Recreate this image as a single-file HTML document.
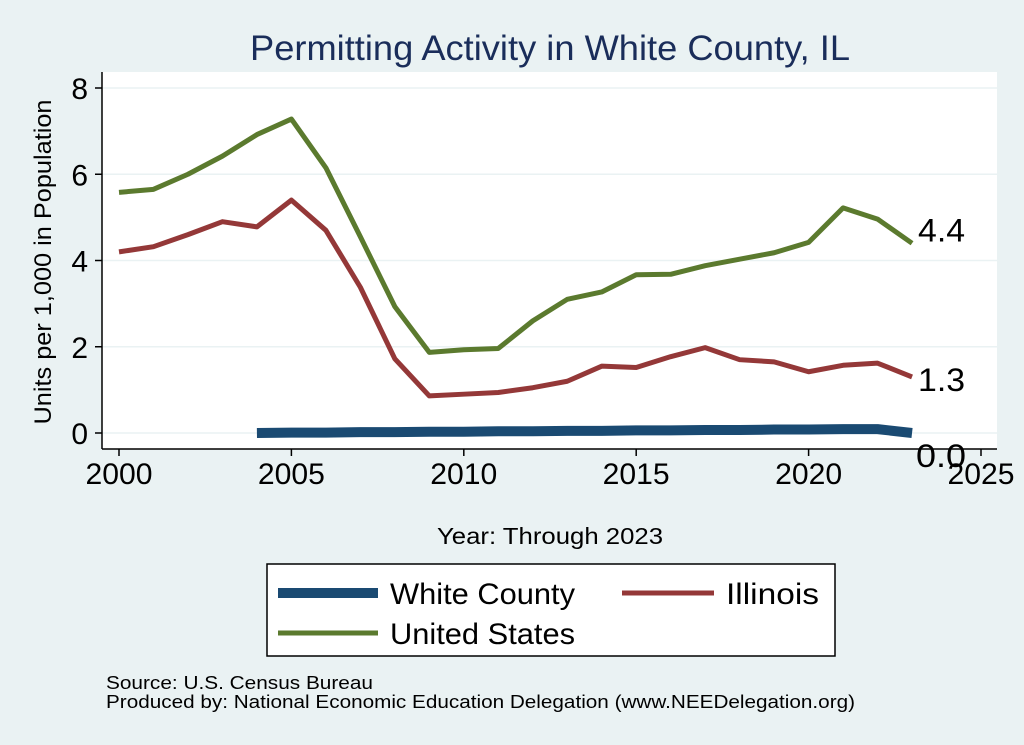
<!DOCTYPE html>
<html><head><meta charset="utf-8"><style>
body{margin:0;background:#eaf2f3;font-family:"Liberation Sans",sans-serif;}
svg{display:block}
</style></head><body>
<svg width="1024" height="745" id="chart">
<rect x="0" y="0" width="1024" height="745" fill="#eaf2f3"/>
<text x="550" y="60" font-size="35" fill="#1a2d5a" text-anchor="middle" textLength="600" lengthAdjust="spacingAndGlyphs">Permitting Activity in White County, IL</text>
<rect x="102" y="72" width="895" height="377" fill="#fff"/>
<g id="grid"></g><g id="axes"></g><g id="series"></g>
<text transform="translate(51,262) rotate(-90)" font-size="24" text-anchor="middle" textLength="325" lengthAdjust="spacingAndGlyphs">Units per 1,000 in Population</text>
<text x="550" y="544" font-size="23" text-anchor="middle" textLength="226" lengthAdjust="spacingAndGlyphs">Year: Through 2023</text>
<g>
<rect x="267" y="564" width="568" height="92" fill="#fff" stroke="#000" stroke-width="1.5"/>
<line x1="278" y1="593" x2="378" y2="593" stroke="#1a4a72" stroke-width="10"/>
<text x="390" y="604" font-size="30" textLength="185" lengthAdjust="spacingAndGlyphs">White County</text>
<line x1="622" y1="593" x2="714" y2="593" stroke="#943838" stroke-width="5"/>
<text x="726" y="604" font-size="30" textLength="93" lengthAdjust="spacingAndGlyphs">Illinois</text>
<line x1="278" y1="633" x2="378" y2="633" stroke="#5b7a2e" stroke-width="5"/>
<text x="390" y="644" font-size="30" textLength="185" lengthAdjust="spacingAndGlyphs">United States</text>
</g>
<text x="106" y="689" font-size="18" textLength="267" lengthAdjust="spacingAndGlyphs">Source: U.S. Census Bureau</text>
<text x="106" y="708" font-size="18" textLength="749" lengthAdjust="spacingAndGlyphs">Produced by: National Economic Education Delegation (www.NEEDelegation.org)</text>
</svg>
<script>
const years=[2000,2001,2002,2003,2004,2005,2006,2007,2008,2009,2010,2011,2012,2013,2014,2015,2016,2017,2018,2019,2020,2021,2022,2023];
const usVals=[5.58,5.65,6.0,6.42,6.92,7.28,6.15,4.55,2.93,1.87,1.93,1.96,2.6,3.1,3.27,3.67,3.68,3.88,4.03,4.18,4.42,5.22,4.96,4.4];
const ilVals=[4.2,4.32,4.6,4.9,4.78,5.4,4.7,3.38,1.72,0.86,0.9,0.94,1.05,1.2,1.55,1.52,1.77,1.98,1.7,1.65,1.42,1.57,1.62,1.3];
const wcYears=[2004,2005,2006,2007,2008,2009,2010,2011,2012,2013,2014,2015,2016,2017,2018,2019,2020,2021,2022,2023];
const wcVals=[0.0,0.01,0.01,0.02,0.02,0.03,0.03,0.04,0.04,0.05,0.05,0.06,0.06,0.07,0.07,0.08,0.08,0.09,0.09,0.0];
const yTicks=[0,2,4,6,8];
const xTicks=[2000,2005,2010,2015,2020,2025];
const NS="http://www.w3.org/2000/svg";
const xS=v=>119+(v-2000)*(981-119)/25;
const yS=v=>433-v*(433-88)/8;
function mk(t,a,p){const e=document.createElementNS(NS,t);for(const k in a)e.setAttribute(k,a[k]);p.appendChild(e);return e;}
const grid=document.getElementById('grid'),axes=document.getElementById('axes'),ser=document.getElementById('series');
yTicks.forEach(v=>{
 const g=mk('line',{x1:102,x2:997,y1:yS(v),y2:yS(v),stroke:'#eaf2f3','stroke-width':1.5},grid);
 
 
 mk('line',{x1:95,x2:102,y1:yS(v),y2:yS(v),stroke:'#000','stroke-width':1.5},axes);
 const t=mk('text',{x:88,y:yS(v)+11,'font-size':30,'text-anchor':'end'},axes);t.textContent=v;
 
 
});
mk('line',{x1:102,x2:102,y1:72,y2:449,stroke:'#000','stroke-width':1.5},axes);
mk('line',{x1:102,x2:997,y1:449,y2:449,stroke:'#000','stroke-width':1.5},axes);
xTicks.forEach(v=>{
 mk('line',{x1:xS(v),x2:xS(v),y1:449,y2:456,stroke:'#000','stroke-width':1.5},axes);
 const t=mk('text',{x:xS(v),y:484,'font-size':30,'text-anchor':'middle',textLength:67,lengthAdjust:'spacingAndGlyphs'},axes);t.textContent=v;
 
 
});
function line(xs,vs,col,w,name){
 const p=mk('polyline',{points:xs.map((x,i)=>xS(x)+','+yS(vs[i])).join(' '),fill:'none',stroke:col,'stroke-width':w,'stroke-linejoin':'round'},ser);
 
 
}
line(wcYears,wcVals,'#1a4a72',10,'white-county-line');
line(years,ilVals,'#943838',5,'illinois-line');
line(years,usVals,'#5b7a2e',5,'united-states-line');
function lab(xv,v,dy,name){const t=mk('text',{x:xS(xv)+6,y:yS(v)+dy,'font-size':32,textLength:47,lengthAdjust:'spacingAndGlyphs'},ser);t.textContent=v.toFixed(1);
 
 }
lab(2023,usVals[usVals.length-1],-2,'us-end-label');
lab(2023,ilVals[ilVals.length-1],14,'illinois-end-label');
const t=mk('text',{x:xS(2023)+4,y:yS(0)+34,'font-size':32,textLength:50,lengthAdjust:'spacingAndGlyphs'},ser);t.textContent=wcVals[wcVals.length-1].toFixed(1);


</script>
</body></html>
